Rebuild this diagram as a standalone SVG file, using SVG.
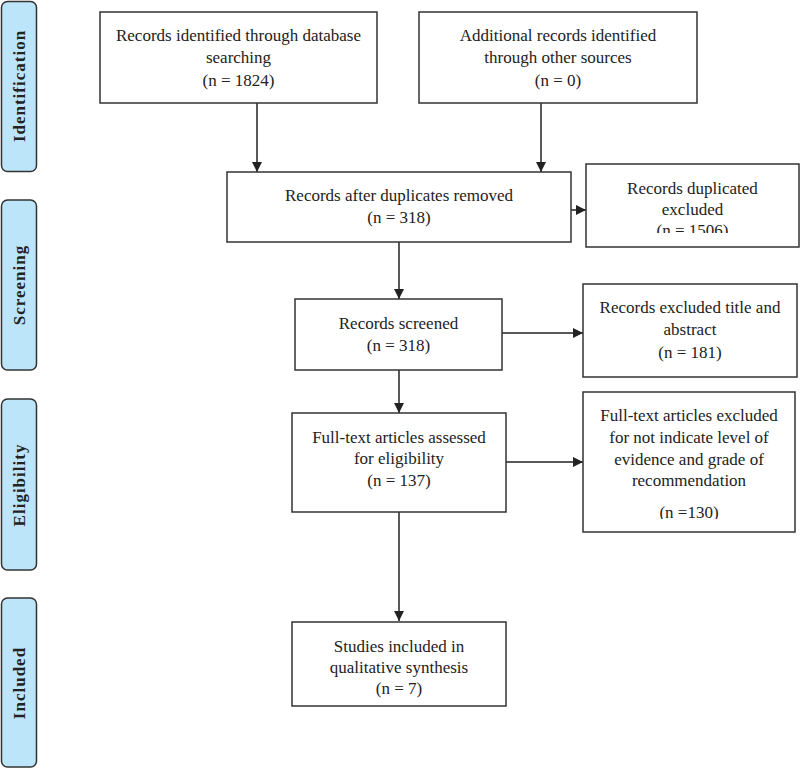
<svg xmlns="http://www.w3.org/2000/svg" width="800" height="770" viewBox="0 0 800 770">
<style>
.box{fill:#fff;stroke:#333;stroke-width:1.5}
.side{fill:#bde5f9;stroke:#333;stroke-width:1.5}
.t{font-family:"Liberation Serif","Times New Roman",serif;font-size:17px;fill:#222;text-anchor:middle}
.s{font-family:"Liberation Serif","Times New Roman",serif;font-size:17px;font-weight:bold;fill:#222;text-anchor:middle;letter-spacing:1px}
.c{stroke:#222;stroke-width:1.5;fill:none;marker-end:url(#ah)}
</style>
<defs>
<marker id="ah" viewBox="0 0 10 10" refX="10" refY="5" markerWidth="10" markerHeight="10" markerUnits="userSpaceOnUse" orient="auto">
<path d="M0,0 L10,5 L0,10 Z" fill="#222"/>
</marker>
<clipPath id="cpDup"><rect x="586" y="164" width="213" height="69"/></clipPath>
<clipPath id="cpFull"><rect x="583" y="392" width="212" height="127"/></clipPath>
</defs>
<rect width="800" height="770" fill="#fff"/>

<g id="phase-identification"><rect class="side" x="1.5" y="1.5" width="35" height="170" rx="6"/><text class="s" transform="translate(25,86) rotate(-90)">Identification</text></g>
<g id="phase-screening"><rect class="side" x="1.5" y="200" width="35" height="170" rx="6"/><text class="s" transform="translate(25,285) rotate(-90)">Screening</text></g>
<g id="phase-eligibility"><rect class="side" x="1.5" y="399" width="35" height="171" rx="6"/><text class="s" transform="translate(25,485) rotate(-90)">Eligibility</text></g>
<g id="phase-included"><rect class="side" x="1.5" y="598" width="35" height="169" rx="6"/><text class="s" transform="translate(25,683) rotate(-90)">Included</text></g>

<g id="connectors">
<line class="c" x1="257" y1="103" x2="257" y2="172"/>
<line class="c" x1="541" y1="103" x2="541" y2="172"/>
<line class="c" x1="571" y1="210" x2="586" y2="210"/>
<line class="c" x1="399" y1="242" x2="399" y2="299"/>
<line class="c" x1="502" y1="333" x2="583" y2="333"/>
<line class="c" x1="399" y1="370" x2="399" y2="413"/>
<line class="c" x1="506" y1="462" x2="583" y2="462"/>
<line class="c" x1="399" y1="512" x2="399" y2="621"/>
</g>

<g id="db-records"><rect class="box" x="100" y="12" width="277" height="91"/>
<text class="t" x="238.5" y="41">Records identified through database</text>
<text class="t" x="238.5" y="63">searching</text>
<text class="t" x="238.5" y="86">(n = 1824)</text></g>

<g id="other-records"><rect class="box" x="419" y="12" width="278" height="91"/>
<text class="t" x="558" y="41">Additional records identified</text>
<text class="t" x="558" y="63">through other sources</text>
<text class="t" x="558" y="86">(n = 0)</text></g>

<g id="after-duplicates"><rect class="box" x="227" y="172" width="344" height="70"/>
<text class="t" x="399" y="201">Records after duplicates removed</text>
<text class="t" x="399" y="223">(n = 318)</text></g>

<g id="duplicates-excluded"><rect class="box" x="586" y="164" width="213" height="83"/>
<g clip-path="url(#cpDup)">
<text class="t" x="692.5" y="194">Records duplicated</text>
<text class="t" x="692.5" y="215">excluded</text>
<text class="t" x="692.5" y="235.5">(n = 1506)</text></g></g>

<g id="screened"><rect class="box" x="295" y="299" width="207" height="71"/>
<text class="t" x="398.5" y="329">Records screened</text>
<text class="t" x="398.5" y="351">(n = 318)</text></g>

<g id="excluded-title"><rect class="box" x="583" y="284" width="214" height="93"/>
<text class="t" x="690" y="313">Records excluded title and</text>
<text class="t" x="690" y="335">abstract</text>
<text class="t" x="690" y="358">(n = 181)</text></g>

<g id="fulltext"><rect class="box" x="292" y="413" width="214" height="99"/>
<text class="t" x="399" y="443">Full-text articles assessed</text>
<text class="t" x="399" y="464">for eligibility</text>
<text class="t" x="399" y="486">(n = 137)</text></g>

<g id="fulltext-excluded"><rect class="box" x="583" y="392" width="212" height="140"/>
<g clip-path="url(#cpFull)">
<text class="t" x="689" y="421">Full-text articles excluded</text>
<text class="t" x="689" y="443">for not indicate level of</text>
<text class="t" x="689" y="465">evidence and grade of</text>
<text class="t" x="689" y="486">recommendation</text>
<text class="t" x="689" y="518">(n =130)</text></g></g>

<g id="included"><rect class="box" x="292" y="622" width="214" height="84"/>
<text class="t" x="399" y="652">Studies included in</text>
<text class="t" x="399" y="673">qualitative synthesis</text>
<text class="t" x="399" y="694">(n = 7)</text></g>
</svg>
